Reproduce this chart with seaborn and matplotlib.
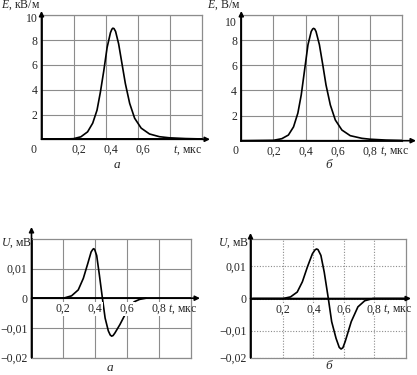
import matplotlib
matplotlib.use("Agg")
import matplotlib.pyplot as plt
import matplotlib.transforms as mtransforms
import pandas as pd
import seaborn as sns

# --- data ------------------------------------------------------------------
# top left (a): E, kV/m
t_e_a = [0.0, 0.1, 0.2, 0.246, 0.288, 0.32, 0.347, 0.368, 0.389, 0.41, 0.431,
         0.44, 0.446, 0.453, 0.463, 0.482, 0.503, 0.524, 0.551, 0.582, 0.623,
         0.675, 0.737, 0.8, 0.9, 1.0]
e_a = [0.0, 0.0, 0.05, 0.2, 0.6, 1.3, 2.35, 3.8, 5.5, 7.4, 8.6,
       8.88, 8.96, 8.93, 8.7, 7.7, 6.1, 4.5, 2.9, 1.7, 0.9,
       0.43, 0.21, 0.12, 0.06, 0.03]

# top right (b): E, V/m
t_e_b = [0.0, 0.2, 0.252, 0.293, 0.325, 0.352, 0.373, 0.394, 0.415, 0.435,
         0.444, 0.45, 0.457, 0.465, 0.486, 0.507, 0.527, 0.554, 0.585, 0.626,
         0.678, 0.75, 0.8, 0.9, 1.0]
e_b = [0.0, 0.03, 0.16, 0.45, 1.1, 2.2, 3.65, 5.65, 7.65, 8.7,
       8.9, 8.95, 8.9, 8.7, 7.65, 6.05, 4.45, 2.85, 1.65, 0.85,
       0.4, 0.19, 0.12, 0.05, 0.02]

# bottom left (a): U, mV
t_u_a = [0.0, 0.2, 0.252, 0.294, 0.326, 0.354, 0.375, 0.386, 0.392, 0.398,
         0.41, 0.427, 0.446, 0.463, 0.483, 0.495, 0.504, 0.513, 0.525, 0.556,
         0.583, 0.615, 0.646, 0.68, 0.72]
u_a = [0.0, 0.0, 0.0008, 0.0028, 0.0067, 0.0117, 0.0156, 0.0165, 0.0167, 0.0163,
       0.0144, 0.0078, 0.0, -0.0067, -0.011, -0.0124, -0.0128, -0.0126, -0.0117, -0.0089,
       -0.0061, -0.003, -0.0012, -0.0004, 0.0]

# bottom right (b): U, mV
t_u_b = [0.0, 0.2, 0.249, 0.293, 0.327, 0.36, 0.393, 0.41, 0.42, 0.43,
         0.449, 0.471, 0.498, 0.52, 0.549, 0.57, 0.582, 0.594, 0.609, 0.649,
         0.693, 0.738, 0.793, 1.0]
u_b = [0.0, 0.0, 0.0005, 0.002, 0.0052, 0.0098, 0.0139, 0.0151, 0.0154, 0.0152,
       0.0134, 0.0082, 0.0, -0.0072, -0.0124, -0.0152, -0.0157, -0.0153, -0.0134, -0.0072,
       -0.0026, -0.0007, 0.0, 0.0]

e_ticks = [2, 4, 6, 8, 10]
e_tick_labels = ["2", "4", "6", "8", "10"]
u_ticks_a = [-0.02, -0.01, 0.0, 0.01]
u_ticks_b = [-0.0184, -0.01, 0.0, 0.01]
u_tick_labels = ["\u22120,02", "\u22120,01", "0", "0,01"]
t_ticks = [0.2, 0.4, 0.6, 0.8]
t_tick_labels = ["0,2", "0,4", "0,6", "0,8"]

W, H = 417, 375
GRID = "#8c8c8c"
FS = 8.5

sns.set_style("white")
plt.rcParams["font.family"] = ["Liberation Serif", "DejaVu Serif"]
plt.rcParams["font.size"] = FS
plt.rcParams["mathtext.fontset"] = "custom"
plt.rcParams["mathtext.it"] = "Liberation Serif:italic"
plt.rcParams["mathtext.rm"] = "Liberation Serif"

fig = plt.figure(figsize=(W / 100, H / 100), dpi=100)


def fx(px):
    return px / W


def fy(py):
    return 1 - py / H


def panel(x0, x1, ytop, ybot, t, v, xlim, ylim, yticks, ylabels, nx_labels,
          ylab, ylab_x, ylab_y, tlab_x, yarrow_tip, xarrow_tip, grid_ls,
          axis_on_zero, zero_lab=None, xlab_shift=0.0, label_bg=False,
          top_drop=0.0):
    ax = fig.add_axes([fx(x0), fy(ybot), fx(x1 - x0), (ybot - ytop) / H])
    df = pd.DataFrame({"t": t, "v": v})
    sns.lineplot(data=df, x="t", y="v", ax=ax, color="black", lw=1.2,
                 estimator=None, zorder=3)
    ax.set_xlim(*xlim)
    ax.set_ylim(*ylim)
    ax.set_xlabel("")
    ax.set_ylabel("")
    ax.set_xticks(t_ticks)
    ax.set_xticklabels([])
    ax.set_yticks(yticks)
    ax.set_yticklabels(ylabels)
    ax.tick_params(length=0, pad=3, labelsize=FS)
    if top_drop:
        lbl = ax.get_yticklabels()[-1]
        lbl.set_transform(lbl.get_transform() +
                          mtransforms.ScaledTranslation(0, -top_drop / 100, fig.dpi_scale_trans))
    ax.grid(True, color=GRID, lw=0.8, ls=grid_ls)
    for s in ["top", "right", "bottom"]:
        ax.spines[s].set_color(GRID)
        ax.spines[s].set_linewidth(0.9)
    ax.spines["left"].set_color("black")
    ax.spines["left"].set_linewidth(1.2)
    if not axis_on_zero:
        ax.spines["bottom"].set_color("black")
        ax.spines["bottom"].set_linewidth(1.2)
    ax.axhline(0, color="black", lw=1.2, zorder=2)

    arrow = dict(arrowstyle="-|>", color="black", lw=1.2, mutation_scale=7,
                 shrinkA=0, shrinkB=0)
    ax.annotate("", xy=(xlim[0], fy(yarrow_tip)), xycoords=("data", "figure fraction"),
                xytext=(xlim[0], ylim[0]), textcoords="data",
                arrowprops=arrow, annotation_clip=False)
    ax.annotate("", xy=(fx(xarrow_tip), 0), xycoords=("figure fraction", "data"),
                xytext=(xlim[0], 0), textcoords="data",
                arrowprops=arrow, annotation_clip=False)

    bg = dict(facecolor="white", edgecolor="none", pad=0.6) if label_bg else None
    for xv, lab in zip(t_ticks[:nx_labels], t_tick_labels[:nx_labels]):
        ax.annotate(lab, xy=(xv, 0), xytext=(xlab_shift, -7.8),
                    textcoords="offset points", ha="center", va="center",
                    fontsize=FS, bbox=bg, zorder=5, annotation_clip=False)
    ax.annotate("$t$, мкс", xy=(tlab_x, 0), xytext=(0, -7.8),
                textcoords="offset points", ha="left", va="center",
                fontsize=FS, zorder=5, annotation_clip=False)
    if zero_lab is not None:
        ax.annotate("0", xy=(xlim[0], 0), xytext=zero_lab,
                    textcoords="offset points", ha="center", va="center",
                    fontsize=FS, annotation_clip=False)
    fig.text(fx(ylab_x), fy(ylab_y), ylab, ha="right", va="center", fontsize=FS)
    return ax


# top left
panel(41.5, 201.5, 15.3, 139.3, t_e_a, e_a, (0, 1.0), (0, 10),
      e_ticks, e_tick_labels, 3, "$E$, кВ/м", 40, 5.5, 0.822, 11, 210,
      "-", False, zero_lab=(-6.1, -7.8), xlab_shift=4.0, top_drop=2)

# top right
panel(241.3, 402, 15.2, 140.7, t_e_b, e_b, (0, 1.0), (0, 10),
      e_ticks, e_tick_labels, 4, "$E$, В/м", 240, 5.5, 0.863, 11, 416,
      "-", False, zero_lab=(-4.5, -7.4), top_drop=6)

# bottom left
panel(31.5, 190.5, 238.9, 357.5, t_u_a, u_a, (0, 1.0), (-0.02, 0.02),
      u_ticks_a, u_tick_labels, 4, "$U$, мВ", 32, 243, 0.858, 227, 200,
      "-", True, label_bg=True)

# bottom right
panel(250.5, 406, 239.3, 357.7, t_u_b, u_b, (-0.015, 1.01), (-0.0184, 0.0184),
      u_ticks_b, u_tick_labels, 4, "$U$, мВ", 249, 243, 0.856, 233, 411,
      (0, (1, 1.5)), True, label_bg=True)

cap = dict(ha="center", va="center", fontsize=FS + 1, style="italic")
fig.text(fx(117), fy(165), "а", **cap)
fig.text(fx(329), fy(165), "б", **cap)
fig.text(fx(110), fy(368), "а", **cap)
fig.text(fx(329), fy(366), "б", **cap)

fig.savefig("out.png", dpi=100)
